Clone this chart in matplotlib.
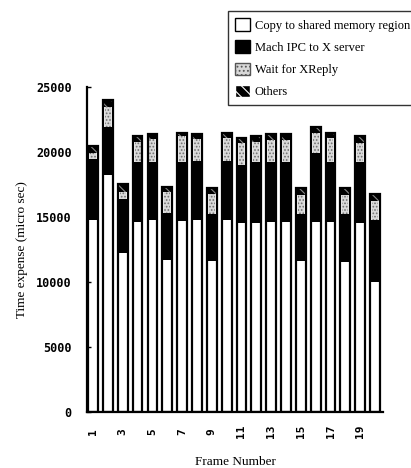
import matplotlib
matplotlib.use("Agg")
import matplotlib.pyplot as plt
import matplotlib.patches as mpatches
import numpy as np

frames = list(range(1, 21))
copy_shm = [14800, 18200, 12200, 14600, 14800, 11700, 14700, 14800, 11600, 14800,
            14500, 14500, 14600, 14600, 11600, 14600, 14600, 11500, 14500, 10000]
mach_ipc = [4700, 3700, 4200, 4600, 4400, 3600, 4500, 4500, 3600, 4500,
            4500, 4700, 4600, 4600, 3600, 5300, 4600, 3700, 4700, 4800]
wait_xreply = [400, 1600, 500, 1600, 1800, 1600, 2000, 1700, 1600, 1800,
               1700, 1600, 1700, 1700, 1500, 1600, 1900, 1500, 1500, 1400]
others = [600, 500, 600, 400, 400, 400, 300, 400, 400, 400,
          400, 400, 500, 500, 500, 400, 400, 500, 500, 600]
xtick_labels = [str(i) for i in range(1, 21, 2)]
legend_labels = ["Copy to shared memory region", "Mach IPC to X server",
                 "Wait for XReply", "Others"]

serif = "Liberation Serif"
plt.rcParams['hatch.linewidth'] = 0.8

fig = plt.figure(figsize=(4.11, 4.68), dpi=100)
ax = fig.add_axes([0.212, 0.12, 0.72, 0.694])

x = np.array(frames)
w = 0.66
c = np.array(copy_shm)
m = np.array(mach_ipc)
wt = np.array(wait_xreply)
o = np.array(others)

ax.bar(x, c, w, color="white", linewidth=0)
ax.bar(x, m, w, bottom=c, color="black", linewidth=0)
ax.bar(x, wt, w * 0.6, bottom=c + m, color="#d8d8d8", edgecolor="#707070",
       hatch=".....", linewidth=0)
ax.bar(x, o, w, bottom=c + m + wt, color="black", edgecolor="#888888",
       hatch="\\\\\\", linewidth=0)
ax.bar(x, c + m + wt + o, w, fill=False, edgecolor="black", linewidth=1.6)

ax.set_xlim(0.6, 20.54)
ax.set_ylim(0, 25000)
ax.set_yticks([0, 5000, 10000, 15000, 20000, 25000])
ax.set_xticks(range(1, 21, 2))
ax.set_xticklabels(xtick_labels, rotation=90, va="center",
                   family="DejaVu Sans Mono", fontsize=8, fontweight="bold")
for lab in ax.get_yticklabels():
    lab.set_family("DejaVu Sans Mono")
    lab.set_fontsize(8.5)
    lab.set_fontweight("bold")
ax.tick_params(axis="y", direction="in", length=3, width=1, pad=11)
ax.tick_params(axis="x", direction="out", length=0, pad=14)
for s in ["top", "right"]:
    ax.spines[s].set_visible(False)
ax.spines["left"].set_linewidth(1.6)
ax.spines["bottom"].set_linewidth(1.6)

ax.set_ylabel("Time expense (micro sec)", family=serif, fontsize=9.5, labelpad=6)
ax.set_xlabel("Frame Number", family=serif, fontsize=9.5, labelpad=13)

handles = [
    mpatches.Patch(facecolor="white", edgecolor="black", linewidth=1),
    mpatches.Patch(facecolor="black", edgecolor="black", linewidth=1),
    mpatches.Patch(facecolor="#d8d8d8", edgecolor="#555555", hatch="....", linewidth=1),
    mpatches.Patch(facecolor="black", edgecolor="white", hatch="\\\\\\", linewidth=1),
]
leg = fig.legend(handles, legend_labels, loc="upper left",
                 bbox_to_anchor=(222 / 411, 1 - 5 / 468),
                 prop={"family": serif, "size": 9}, frameon=True, fancybox=False,
                 handlelength=1.15, handleheight=1.15, handletextpad=0.4,
                 labelspacing=0.7, borderpad=0.55)
leg.get_frame().set_edgecolor("black")
leg.get_frame().set_linewidth(1.0)

fig.savefig("out.png", dpi=100)
